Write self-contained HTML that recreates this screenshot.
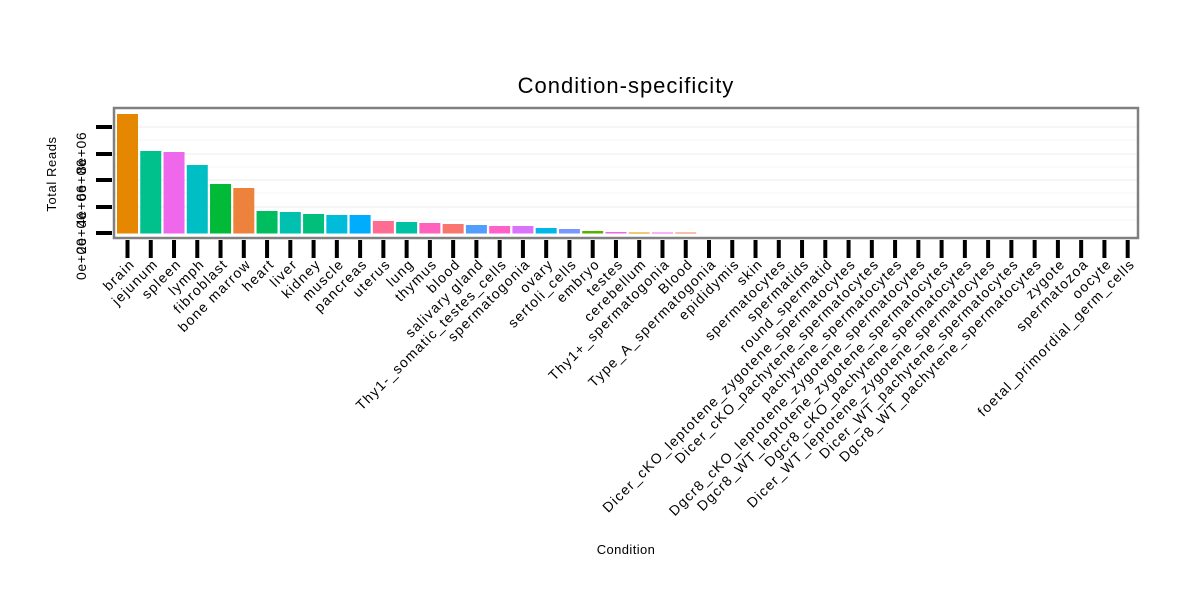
<!DOCTYPE html>
<html><head><meta charset="utf-8"><style>
body{margin:0;background:#fff}
svg text{font-family:"Liberation Sans",sans-serif}
</style></head><body>
<svg width="1200" height="600" xmlns="http://www.w3.org/2000/svg">
<rect width="1200" height="600" fill="#fff"/>
<text x="626" y="93" font-size="22" letter-spacing="1" text-anchor="middle">Condition-specificity</text>
<g stroke="#f3f3f3" stroke-width="1.5">
<line x1="115" x2="1137" y1="127" y2="127"/><line x1="115" x2="1137" y1="154" y2="154"/>
<line x1="115" x2="1137" y1="180" y2="180"/><line x1="115" x2="1137" y1="207" y2="207"/>
<line x1="115" x2="1137" y1="140" y2="140" stroke="#f8f8f8"/><line x1="115" x2="1137" y1="167" y2="167" stroke="#f8f8f8"/>
<line x1="115" x2="1137" y1="193" y2="193" stroke="#f8f8f8"/><line x1="115" x2="1137" y1="220" y2="220" stroke="#f8f8f8"/>
</g>
<g id="bars"></g>
<rect x="114" y="108" width="1024" height="130" fill="none" stroke="#808080" stroke-width="2.5"/>
<g stroke="#000" stroke-width="4">
<line x1="96" x2="112" y1="127" y2="127"/><line x1="96" x2="112" y1="154" y2="154"/>
<line x1="96" x2="112" y1="180" y2="180"/><line x1="96" x2="112" y1="207" y2="207"/>
<line x1="96" x2="112" y1="233" y2="233"/>
</g>
<g font-size="14" letter-spacing="0.6">
<text transform="translate(86,280) rotate(-90)">0e+00</text>
<text transform="translate(86,254) rotate(-90)">2e+06</text>
<text transform="translate(86,227) rotate(-90)">4e+06</text>
<text transform="translate(86,201) rotate(-90)">6e+06</text>
<text transform="translate(86,174) rotate(-90)">8e+06</text>
</g>
<text transform="translate(56,174) rotate(-90)" font-size="13" letter-spacing="0.6" text-anchor="middle">Total Reads</text>
<text x="626" y="554" font-size="13" letter-spacing="0.4" text-anchor="middle">Condition</text>
<g id="ticks" stroke="#000" stroke-width="4"></g>
<g id="labels" font-size="14" letter-spacing="1.3"></g>
</svg>
<script>
var names=["brain","jejunum","spleen","lymph","fibroblast","bone marrow","heart","liver","kidney","muscle","pancreas","uterus","lung","thymus","blood","salivary gland","Thy1-_somatic_testes_cells","spermatogonia","ovary","sertoli_cells","embryo","testes","cerebellum","Thy1+_spermatogonia","Blood","Type_A_spermatogonia","epididymis","skin","spermatocytes","spermatids","round_spermatid","Dicer_cKO_leptotene_zygotene_spermatocytes","Dicer_cKO_pachytene_spermatocytes","pachytene_spermatocytes","Dgcr8_cKO_leptotene_zygotene_spermatocytes","Dgcr8_WT_leptotene_zygotene_spermatocytes","Dgcr8_cKO_pachytene_spermatocytes","Dicer_WT_leptotene_zygotene_spermatocytes","Dicer_WT_pachytene_spermatocytes","Dgcr8_WT_pachytene_spermatocytes","zygote","spermatozoa","oocyte","foetal_primordial_germ_cells"];
var tops=[114,151,152,165,184,188,211,212,214,215,215,221,222,223,224,225,226,226,228,229,231,232,233,233,233];
var cols=["#E58700","#00C08B","#EF67EB","#00BFC4","#00BA38","#EC823C","#00BD5F","#00C0AF","#00BF7D","#00BCD8","#00ACFC","#FF6C91","#00C1A3","#FF62BC","#F8766D","#529EFF","#FF61C9","#DB72FB","#00B8E7","#7997FF","#53B400","#F166E8","#D89000","#F564E3","#F07F55"];
var bars="",ticks="",labels="";
for(var i=0;i<44;i++){
 var cx=127.5+i*23.26;
 if(i<tops.length){var t=tops[i],h=233.5-t; if(h<1)h=1,t=232.5;
  bars+='<rect x="'+(cx-10.5)+'" y="'+t+'" width="21" height="'+h+'" fill="'+cols[i]+'"/>';}
 ticks+='<line x1="'+cx+'" x2="'+cx+'" y1="240" y2="258"/>';
 labels+='<text text-anchor="end" transform="translate('+(cx+8)+',265) rotate(-45)">'+names[i]+'</text>';
}
document.getElementById("bars").innerHTML=bars;
document.getElementById("ticks").innerHTML=ticks;
document.getElementById("labels").innerHTML=labels;
</script>
</body></html>
